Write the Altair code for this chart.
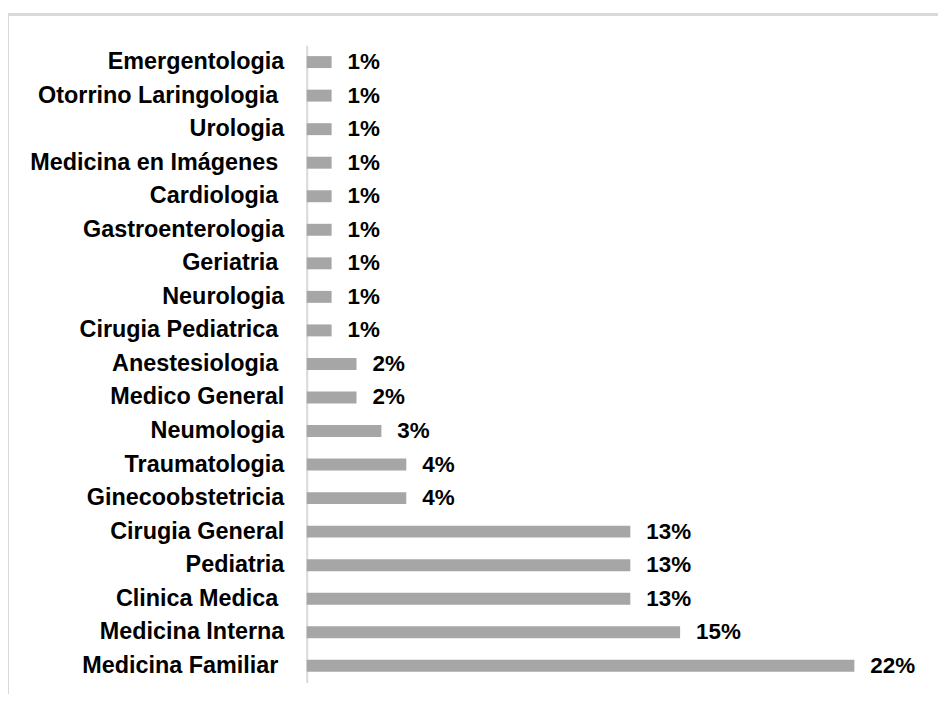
import altair as alt
import pandas as pd

categories = [
    "Emergentologia",
    "Otorrino Laringologia ",
    "Urologia",
    "Medicina en Imágenes ",
    "Cardiologia ",
    "Gastroenterologia",
    "Geriatria ",
    "Neurologia",
    "Cirugia Pediatrica ",
    "Anestesiologia ",
    "Medico General",
    "Neumologia",
    "Traumatologia",
    "Ginecoobstetricia",
    "Cirugia General",
    "Pediatria",
    "Clinica Medica ",
    "Medicina Interna",
    "Medicina Familiar ",
]
values = [1, 1, 1, 1, 1, 1, 1, 1, 1, 2, 2, 3, 4, 4, 13, 13, 13, 15, 22]
value_labels = [f"{v}%" for v in values]

df = pd.DataFrame({"cat": categories, "val": values, "lbl": value_labels})

FONT = "Liberation Sans"

y_enc = alt.Y(
    "cat:N",
    sort=categories,
    title=None,
    scale=alt.Scale(paddingInner=0.64, paddingOuter=0.32),
    axis=alt.Axis(
        ticks=False,
        domain=True,
        domainColor="#d9d9d9",
        domainWidth=2,
        labelFont=FONT,
        labelFontSize=23.5,
        labelFontWeight="bold",
        labelColor="#000000",
        labelPadding={"condition": {"test": "slice(datum.value, -1) === ' '", "value": 29}, "value": 23},
        labelLimit=400,
        grid=False,
    ),
)
x_enc = alt.X("val:Q", scale=alt.Scale(domain=[0, 22], nice=False, zero=True), axis=None)

frame = alt.Chart(df).mark_rect(
    fillOpacity=0, stroke="#d9d9d9", strokeWidth=2
).encode(
    x=alt.value(-300), x2=alt.value(680), y=alt.value(-31), y2=alt.value(690)
)

bars = alt.Chart(df).mark_bar(color="#a6a6a6", size=12).encode(y=y_enc, x=x_enc)

labels = alt.Chart(df).mark_text(
    align="left", baseline="middle", dx=16, font=FONT, fontSize=22.5,
    fontWeight="bold", color="#000000"
).encode(y=alt.Y("cat:N", sort=categories), x=x_enc, text="lbl:N")

chart = alt.layer(frame, bars, labels).properties(
    width=550,
    height=640,
    autosize=alt.AutoSizeParams(type="none"),
    padding={"left": 300, "top": 36, "right": 84, "bottom": 10},
    background="#ffffff",
).configure_view(stroke=None)

chart.save("out.html", embed_options={"renderer": "svg", "actions": False})
